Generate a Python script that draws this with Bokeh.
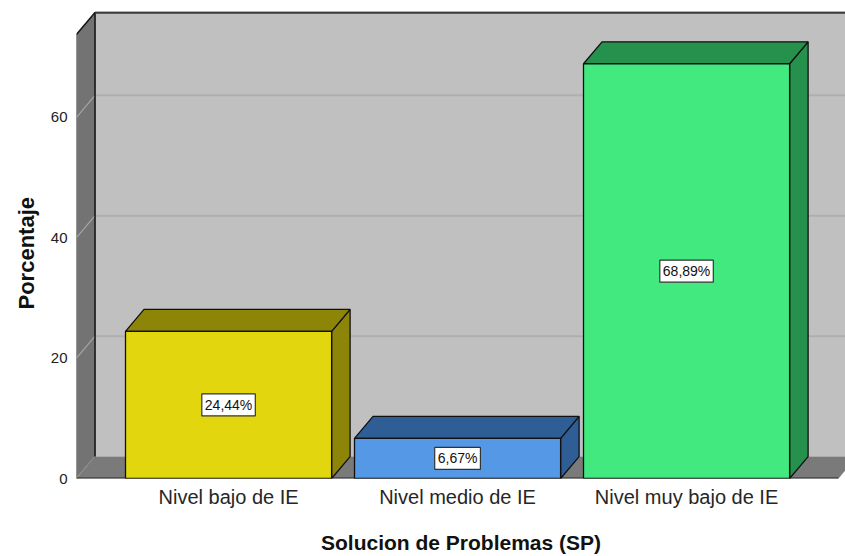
from bokeh.plotting import figure
from bokeh.models import ColumnDataSource, FixedTicker, Range1d, Title
from bokeh.embed import file_html
from bokeh.resources import INLINE

# ---------------- data ----------------
categories = ["Nivel bajo de IE", "Nivel medio de IE", "Nivel muy bajo de IE"]
percentages = [24.44, 6.67, 68.89]
bar_labels = ["24,44%", "6,67%", "68,89%"]
y_ticks = [0, 20, 40, 60]
front_colors = ["#E2D70F", "#5598E6", "#41E97E"]
shade_colors = ["#8C8508", "#2F5E96", "#25914D"]

# ---------------- geometry / style ----------------
FONT = "Liberation Sans"
W, H = 845, 556
BORDER_L, BORDER_T, BORDER_B, BORDER_R = 76, 11, 77, 0
FRAME_W = W - BORDER_L - BORDER_R
FRAME_H = H - BORDER_T - BORDER_B
PX_PER_CAT = 229.0
PX_PER_PCT = 6.0333
X_START = -0.664
X_END = X_START + FRAME_W / PX_PER_CAT
Y_END = FRAME_H / PX_PER_PCT
DX = 18.5 / PX_PER_CAT      # depth offset (x)
DY = 22.0 / PX_PER_PCT      # depth offset (y)
WALL_TOP = 73.76
WALL_RIGHT = X_START + 762 / PX_PER_CAT
BAR_W = 0.9

p = figure(width=W, height=H, output_backend="svg", toolbar_location=None,
           x_range=Range1d(X_START, X_END), y_range=Range1d(0, Y_END),
           min_border_left=BORDER_L, min_border_top=BORDER_T,
           min_border_bottom=BORDER_B, min_border_right=BORDER_R)
p.xgrid.visible = False
p.ygrid.visible = False
p.outline_line_color = None
p.background_fill_color = "white"
p.border_fill_color = "white"

x0, x1 = X_START, WALL_RIGHT
# back wall
p.patch([x0 + DX, x1 + DX, x1 + DX, x0 + DX], [DY, DY, WALL_TOP + DY, WALL_TOP + DY],
        fill_color="#C0C0C0", line_color=None)
# back-wall gridlines
for t in y_ticks[1:]:
    p.line([x0 + DX, x1 + DX], [t + DY, t + DY], line_color="#AFAFAF", line_width=2)
# left wall
p.patch([x0, x0 + DX, x0 + DX, x0], [0, DY, WALL_TOP + DY, WALL_TOP],
        fill_color="#737373", line_color="#4d4d4d", line_width=1)
for t in y_ticks:
    p.line([x0, x0 + DX], [t, t + DY], line_color="#A5A5A5", line_width=1.2)
# floor
p.patch([x0, x0 + DX, x1 + DX, x1], [0, DY, DY, 0],
        fill_color="#7A7A7A", line_color=None)
# wall edges
p.line([x0 + DX, x0 + DX], [DY, WALL_TOP + DY], line_color="#1a1a1a", line_width=1.5)
p.line([x0 + DX, x1 + DX], [WALL_TOP + DY, WALL_TOP + DY], line_color="#3a3a3a", line_width=2.5)
p.line([x0, x0 + DX], [WALL_TOP, WALL_TOP + DY], line_color="#1a1a1a", line_width=1.5)
p.line([x0, x1], [0, 0], line_color="#2a2a2a", line_width=2)

# bars
front_xs, front_ys, top_xs, top_ys, side_xs, side_ys = [], [], [], [], [], []
for i, v in enumerate(percentages):
    L, R = i - BAR_W / 2, i + BAR_W / 2
    front_xs.append([L, R, R, L]); front_ys.append([0, 0, v, v])
    top_xs.append([L, L + DX, R + DX, R]); top_ys.append([v, v + DY, v + DY, v])
    side_xs.append([R, R + DX, R + DX, R]); side_ys.append([0, DY, v + DY, v])

p.patches(side_xs, side_ys, fill_color=shade_colors, line_color="#111111", line_width=1.3)
p.patches(top_xs, top_ys, fill_color=shade_colors, line_color="#111111", line_width=1.3)
p.patches(front_xs, front_ys, fill_color=front_colors, line_color="#111111", line_width=1.3)

lab_src = ColumnDataSource(dict(x=list(range(len(categories))),
                                y=[v / 2 for v in percentages], t=bar_labels))
p.text(x="x", y="y", text="t", source=lab_src, text_align="center",
       text_baseline="middle", text_font_size="14px", text_font={"value": FONT},
       text_color="#111111", background_fill_color="white",
       border_line_color="#333333", border_line_width=1.2, padding=3)

# axes
p.yaxis.ticker = FixedTicker(ticks=y_ticks)
p.yaxis.axis_line_color = None
p.yaxis.major_tick_line_color = None
p.yaxis.major_tick_out = 0
p.yaxis.major_tick_in = 0
p.yaxis.minor_tick_line_color = None
p.yaxis.minor_tick_out = 0
p.yaxis.major_label_standoff = 9
p.yaxis.major_label_text_font_size = "15px"
p.yaxis.major_label_text_font = FONT
p.yaxis.major_label_text_color = "#222222"

# y-axis title as a side title, shifted to sit centred on the front wall
p.add_layout(Title(text="Porcentaje", align="left", offset=169, standoff=18,
                   text_font=FONT, text_font_style="bold", text_font_size="22px",
                   text_color="#111111"), "left")

p.xaxis.ticker = FixedTicker(ticks=list(range(len(categories))))
p.xaxis.major_label_overrides = {i: c for i, c in enumerate(categories)}
p.xaxis.axis_line_color = None
p.xaxis.major_tick_line_color = None
p.xaxis.major_tick_out = 0
p.xaxis.major_tick_in = 0
p.xaxis.minor_tick_line_color = None
p.xaxis.minor_tick_out = 0
p.xaxis.major_label_standoff = 7
p.xaxis.major_label_text_font_size = "20px"
p.xaxis.major_label_text_font = FONT
p.xaxis.major_label_text_color = "#262626"
p.xaxis.axis_label = "Solucion de Problemas (SP)"
p.xaxis.axis_label_text_font = FONT
p.xaxis.axis_label_text_font_style = "bold"
p.xaxis.axis_label_text_font_size = "21px"
p.xaxis.axis_label_text_color = "#111111"
p.xaxis.axis_label_standoff = 20

open("out.html", "w").write(file_html(p, INLINE))
